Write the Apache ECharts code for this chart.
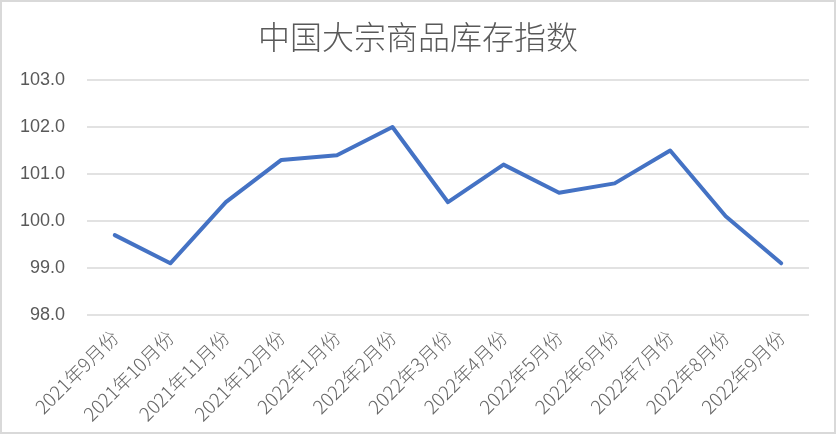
<!DOCTYPE html>
<html>
<head>
<meta charset="utf-8">
<script src="https://cdn.jsdelivr.net/npm/echarts@6/dist/echarts.min.js"></script>
<style>
html,body{margin:0;padding:0;background:#fff;}
#wrap{width:836px;height:434px;box-sizing:border-box;border:2px solid #d9d9d9;position:relative;}
#chart{position:absolute;left:-2px;top:-2px;width:836px;height:434px;}
</style>
</head>
<body>
<div id="wrap"><div id="chart"></div></div>
<script>
var titleText = '中国大宗商品库存指数';
var categories = ['2021年9月份','2021年10月份','2021年11月份','2021年12月份','2022年1月份','2022年2月份','2022年3月份','2022年4月份','2022年5月份','2022年6月份','2022年7月份','2022年8月份','2022年9月份'];
var values = [99.7, 99.1, 100.4, 101.3, 101.4, 102.0, 100.4, 101.2, 100.6, 100.8, 101.5, 100.1, 99.1];
var yMin = 98, yMax = 103, yStep = 1;

var chart = echarts.init(document.getElementById('chart'), null, {renderer:'canvas'});
chart.setOption({
  animation:false,
  backgroundColor:'transparent',
  textStyle:{fontFamily:'"Noto Sans CJK SC", "Noto Sans", sans-serif'},
  title:{
    text:titleText, left:'center', top:16,
    textStyle:{fontSize:32, fontWeight:300, color:'#595959', fontFamily:'"Noto Sans CJK SC", sans-serif'}
  },
  grid:{left:87, right:27, top:80, bottom:119, containLabel:false},
  xAxis:{
    type:'category', data:categories, boundaryGap:true,
    axisLine:{show:false}, axisTick:{show:false},
    axisLabel:{rotate:45, color:'#666666', fontSize:19, margin:19, interval:0,
      fontFamily:'"Noto Sans CJK SC", sans-serif', fontWeight:300}
  },
  yAxis:{
    type:'value', min:yMin, max:yMax, interval:yStep,
    axisLine:{show:false}, axisTick:{show:false},
    axisLabel:{color:'#595959', fontSize:18, margin:22, formatter:function(v){return v.toFixed(1);},
      fontFamily:'"Liberation Sans", Arial, sans-serif'},
    splitLine:{lineStyle:{color:'#d9d9d9', width:1.5}}
  },
  series:[{
    type:'line', data:values, showSymbol:false, symbol:'none',
    lineStyle:{color:'#4472C4', width:4, join:'round', cap:'round'},
    itemStyle:{color:'#4472C4'}
  }]
});
</script>
</body>
</html>
